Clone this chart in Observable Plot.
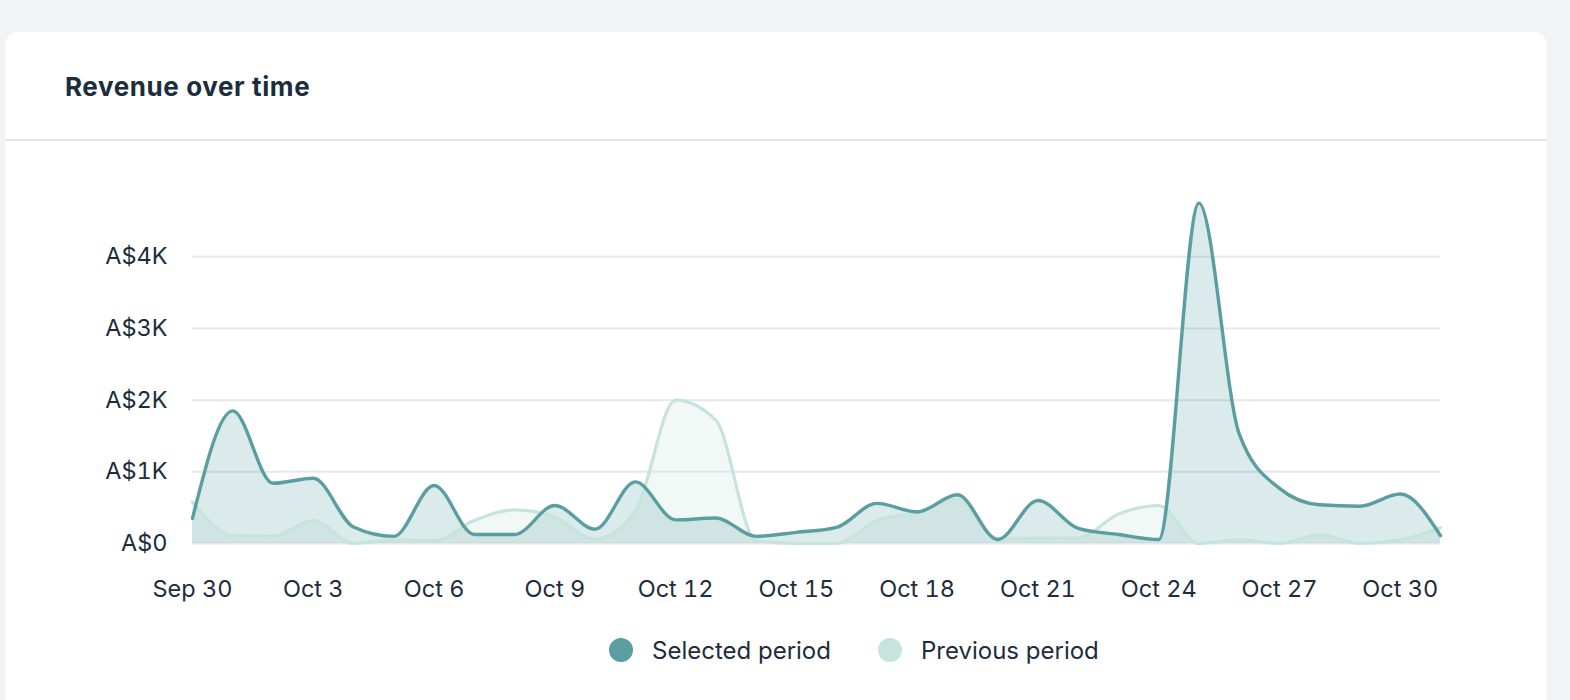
<!DOCTYPE html>
<html>
<head>
<meta charset="utf-8">
<script src="https://cdn.jsdelivr.net/npm/d3@7"></script>
<script src="https://cdn.jsdelivr.net/npm/@observablehq/plot@0.6"></script>
<style>
  html, body { margin: 0; padding: 0; }
  body { width: 1570px; height: 700px; background: #f0f4f7; position: relative; overflow: hidden; font-family: Inter, "Noto Sans", sans-serif; }
  #card { position: absolute; left: 5px; top: 32px; width: 1542px; height: 720px; background: #fff; border-radius: 14px; }
  #title { position: absolute; left: 65px; top: 71px; font-size: 26px; font-weight: 700; color: #1c2d3c; letter-spacing: 0.6px; }
  #divider { position: absolute; left: 5px; top: 139px; width: 1542px; height: 2px; background: #e1e6ea; }
  #chart { position: absolute; left: 0; top: 160px; }
  #legend { position: absolute; top: 635px; left: 0; width: 1570px; font-size: 24px; color: #1c2d3c; }
  .item { position: absolute; top: 0; display: flex; align-items: center; height: 30px; }
  .dot { width: 24px; height: 24px; border-radius: 50%; margin-right: 19px; }
</style>
</head>
<body>
<div id="card"></div>
<div id="title">Revenue over time</div>
<div id="divider"></div>
<div id="chart"></div>
<div id="legend"></div>
<script>
const days = ["2023-09-30","2023-10-01","2023-10-02","2023-10-03","2023-10-04","2023-10-05","2023-10-06","2023-10-07",
  "2023-10-08","2023-10-09","2023-10-10","2023-10-11","2023-10-12","2023-10-13","2023-10-14","2023-10-15",
  "2023-10-16","2023-10-17","2023-10-18","2023-10-19","2023-10-20","2023-10-21","2023-10-22","2023-10-23",
  "2023-10-24","2023-10-25","2023-10-26","2023-10-27","2023-10-28","2023-10-29","2023-10-30","2023-10-31"];
const selected = [350,1850,840,910,230,100,810,125,125,530,200,860,330,355,100,155,
  225,560,440,680,55,600,210,125,55,4750,1530,770,540,520,690,110];
const previous = [580,110,100,320,0,50,40,320,470,370,60,450,2000,1720,40,0,
  0,320,430,620,70,75,80,410,530,0,50,0,120,0,50,220];
const yTicks = [0,1000,2000,3000,4000];
const xTickDays = ["2023-09-30","2023-10-03","2023-10-06","2023-10-09","2023-10-12","2023-10-15",
  "2023-10-18","2023-10-21","2023-10-24","2023-10-27","2023-10-30"];
const seriesNames = ["Selected period", "Previous period"];
const seriesColors = ["#5b9ea1", "#c6e4dc"];

const sel = days.map((d, i) => ({date: new Date(d), value: selected[i]}));
const prev = days.map((d, i) => ({date: new Date(d), value: previous[i]}));
const fmtDate = d3.utcFormat("%b %-d");
const fmtY = v => v === 0 ? "A$0" : "A$" + (v / 1000) + "K";

const chart = Plot.plot({
  width: 1570,
  height: 470,
  marginLeft: 192,
  marginRight: 130,
  marginTop: 39,
  marginBottom: 87,
  style: {fontFamily: "Inter, 'Noto Sans', sans-serif", fontSize: "23.5px", color: "#1c2d3c", background: "transparent", overflow: "visible"},
  x: {type: "utc", domain: [new Date(days[0]), new Date(days[days.length - 1])]},
  y: {domain: [0, 4800], nice: false},
  marks: [
    Plot.ruleY(yTicks, {stroke: "#e6e8eb", strokeWidth: 2}),
    Plot.areaY(prev, {x: "date", y: "value", fill: "#c6e4dc", fillOpacity: 0.25, curve: "monotone-x"}),
    Plot.areaY(sel, {x: "date", y: "value", fill: "#5b9ea1", fillOpacity: 0.22, curve: "monotone-x"}),
    Plot.lineY(prev, {x: "date", y: "value", stroke: "#c6e4dc", strokeWidth: 3.2, curve: "monotone-x"}),
    Plot.lineY(sel, {x: "date", y: "value", stroke: "#5b9ea1", strokeWidth: 3.4, curve: "monotone-x"}),
    Plot.axisY({ticks: yTicks, tickFormat: fmtY, tickSize: 0, tickPadding: 25, label: null}),
    Plot.axisX({ticks: xTickDays.map(d => new Date(d)), tickFormat: fmtDate, tickSize: 0, tickPadding: 37, label: null})
  ]
});
document.getElementById("chart").appendChild(chart);

const legend = document.getElementById("legend");
const lefts = [609, 878];
seriesNames.forEach((name, i) => {
  const item = document.createElement("div");
  item.className = "item";
  item.style.left = lefts[i] + "px";
  const dot = document.createElement("div");
  dot.className = "dot";
  dot.style.background = seriesColors[i];
  const label = document.createElement("span");
  label.textContent = name;
  item.appendChild(dot);
  item.appendChild(label);
  legend.appendChild(item);
});
</script>
</body>
</html>
